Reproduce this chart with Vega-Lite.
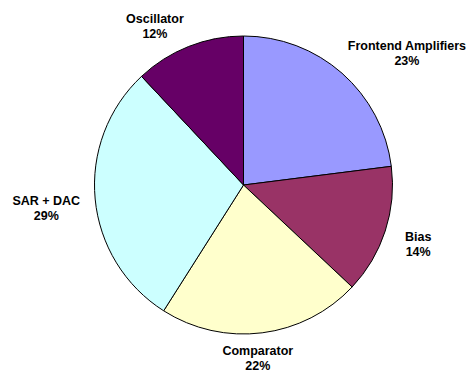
{
  "$schema": "https://vega.github.io/schema/vega-lite/v6.json",
  "autosize": {"type": "none"},
  "width": 455,
  "height": 370,
  "padding": {"left": 16, "top": 0, "right": 0, "bottom": 6},
  "background": "white",
  "config": {"view": {"stroke": null}, "text": {"radius": 170, "align": "center", "baseline": "middle", "lineBreak": "\n", "font": "Liberation Sans", "fontWeight": "bold", "fontSize": 12.5, "lineHeight": 15, "color": "black"}},
  "data": {
    "values": [
      {"category": "Frontend Amplifiers", "pct": 23, "rank": 1},
      {"category": "Bias", "pct": 14, "rank": 2},
      {"category": "Comparator", "pct": 22, "rank": 3},
      {"category": "SAR + DAC", "pct": 29, "rank": 4},
      {"category": "Oscillator", "pct": 12, "rank": 5}
    ]
  },
  "transform": [
    {"calculate": "datum.category + '\\n' + datum.pct + '%'", "as": "label"}
  ],
  "encoding": {
    "theta": {"field": "pct", "type": "quantitative", "stack": true},
    "order": {"field": "rank", "type": "quantitative", "sort": "ascending"}
  },
  "layer": [
    {
      "mark": {"type": "arc", "radius": 149, "stroke": "black", "strokeWidth": 1},
      "encoding": {
        "color": {
          "field": "category",
          "type": "nominal",
          "scale": {
            "domain": ["Frontend Amplifiers", "Bias", "Comparator", "SAR + DAC", "Oscillator"],
            "range": ["#9999FF", "#993366", "#FFFFCC", "#CCFFFF", "#660066"]
          },
          "legend": null
        }
      }
    },
    {
      "mark": {"type": "text", "dx": 51, "dy": -11},
      "encoding": {"text": {"condition": {"test": "datum.category === 'Frontend Amplifiers'", "field": "label"}, "value": ""}}
    },
    {
      "mark": {"type": "text", "dx": 13, "dy": -1},
      "encoding": {"text": {"condition": {"test": "datum.category === 'Bias'", "field": "label"}, "value": ""}}
    },
    {
      "mark": {"type": "text", "dx": -7, "dy": -3},
      "encoding": {"text": {"condition": {"test": "datum.category === 'Comparator'", "field": "label"}, "value": ""}}
    },
    {
      "mark": {"type": "text", "dx": -28, "dy": 0},
      "encoding": {"text": {"condition": {"test": "datum.category === 'SAR + DAC'", "field": "label"}, "value": ""}}
    },
    {
      "mark": {"type": "text", "dx": -26, "dy": -8},
      "encoding": {"text": {"condition": {"test": "datum.category === 'Oscillator'", "field": "label"}, "value": ""}}
    }
  ]
}
